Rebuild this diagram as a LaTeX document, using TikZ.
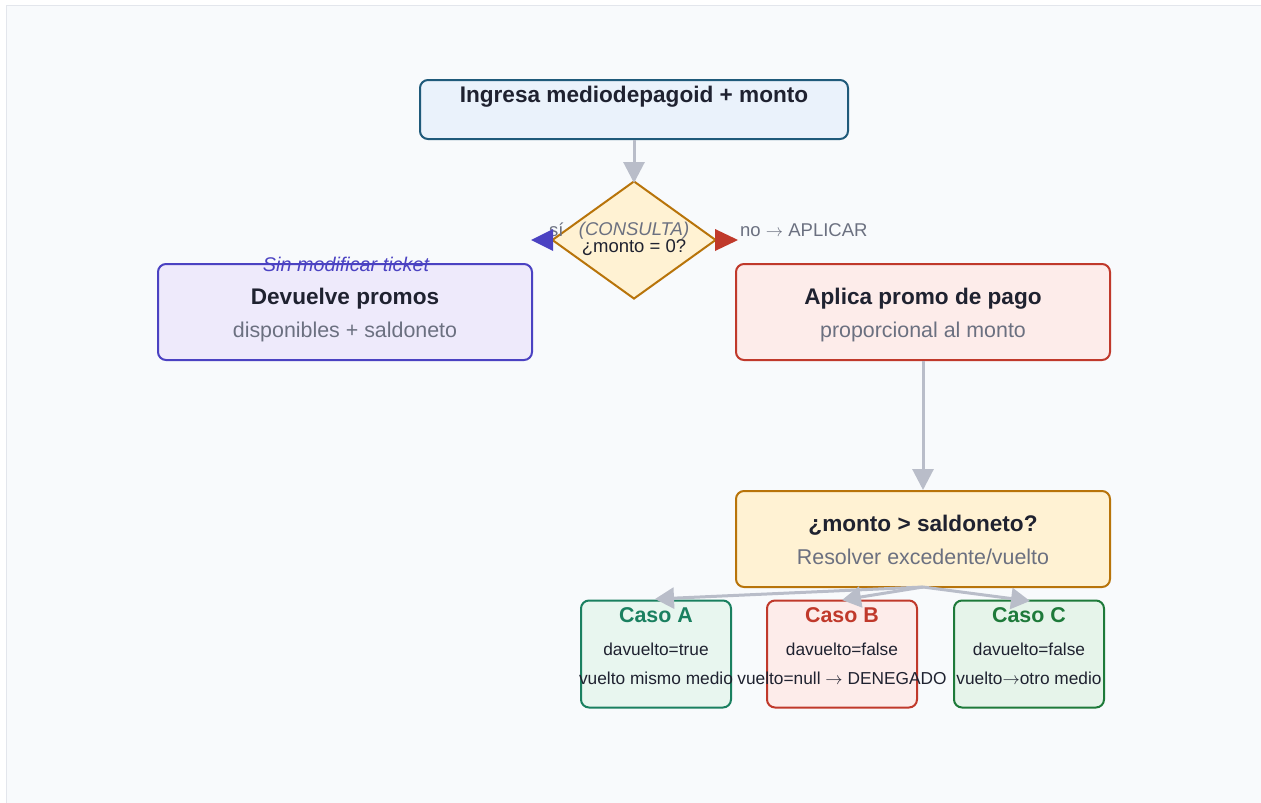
\documentclass[tikz,border=0pt]{standalone}
\usepackage{fontspec}
\setmainfont{Liberation Sans}
\usetikzlibrary{shapes.geometric,arrows.meta}
\definecolor{bgc}{HTML}{F8FAFC}
\definecolor{bgline}{HTML}{E3E6EC}
\definecolor{txt}{HTML}{1F2230}
\definecolor{sub}{HTML}{6B7080}
\definecolor{conn}{HTML}{B9BDC9}
\definecolor{bluefill}{HTML}{EAF2FB}
\definecolor{bluestroke}{HTML}{1F5A7A}
\definecolor{yelfill}{HTML}{FFF2D3}
\definecolor{yelstroke}{HTML}{B8740A}
\definecolor{indfill}{HTML}{EEEAFB}
\definecolor{indstroke}{HTML}{4B42C2}
\definecolor{redfill}{HTML}{FDECEA}
\definecolor{redstroke}{HTML}{C0392B}
\definecolor{tealfill}{HTML}{E8F6EF}
\definecolor{tealstroke}{HTML}{1A8060}
\definecolor{grnfill}{HTML}{E6F4EA}
\definecolor{grnstroke}{HTML}{1E7A3A}
\tikzset{
  box/.style={rounded corners=8pt, line width=2pt, inner sep=0pt},
  conn/.style={draw=conn, line width=3pt, -{Triangle[length=21pt,width=21pt]}, shorten >=0pt},
  smallconn/.style={draw=conn, line width=3pt, -{Triangle[length=19pt,width=21pt]}},
  title/.style={font=\bfseries\fontsize{22.6}{26}\selectfont, text=txt, inner sep=0pt},
  subt/.style={font=\fontsize{21.4}{25}\selectfont, text=sub, inner sep=0pt},
  lbl/.style={font=\fontsize{18.5}{22}\selectfont, text=sub, inner sep=0pt},
  casetitle/.style={font=\bfseries\fontsize{21.4}{25}\selectfont, inner sep=0pt},
  casetxt/.style={font=\fontsize{17.3}{20}\selectfont, text=txt, inner sep=0pt},
}
\begin{document}
\begin{tikzpicture}[x=1pt,y=-1pt]
\useasboundingbox (0,0) rectangle (1261,803);
\draw[fill=bgc, draw=bgline, line width=1.5pt] (6.5,5.5) rectangle (1275,815);

% top box
\node[box, draw=bluestroke, fill=bluefill, minimum width=428pt, minimum height=59pt] (top) at (634,109.5) {};
\node[title] (toptxt) at (634,96.5) {Ingresa mediodepagoid + monto};

% diamond
\node[diamond, draw=yelstroke, fill=yelfill, line width=2pt, minimum width=164pt, minimum height=118pt, inner sep=0pt] (dec) at (634,240) {};
\node[lbl, font=\itshape\fontsize{18.5}{22}\selectfont] (cons) at (634,231) {(CONSULTA)};
\node[lbl, text=txt] (q0) at (634,248) {¿monto = 0?};
\node[lbl, anchor=west] (si) at (549,230) {sí};
\node[lbl, anchor=west] (no) at (740,230) {no $\rightarrow$ APLICAR};
\fill[indstroke] ([xshift=2pt]dec.west) -- ++(0,-11) -- ++(-22,11) -- ++(22,11) -- cycle;
\fill[redstroke] ([xshift=-2pt]dec.east) -- ++(0,-11) -- ++(23,11) -- ++(-23,11) -- cycle;

% left box
\node[box, draw=indstroke, fill=indfill, minimum width=374pt, minimum height=96pt] (left) at (345,312) {};
\node[title] (lt) at (345,299) {Devuelve promos};
\node[subt] (ls) at (345,331.5) {disponibles + saldoneto};
\node[inner sep=0pt, text=indstroke, font=\itshape\fontsize{19.8}{23}\selectfont] (sinmod) at (346,264) {Sin modificar ticket};

% right box
\node[box, draw=redstroke, fill=redfill, minimum width=374pt, minimum height=96pt] (right) at (923,312) {};
\node[title] (rt) at (923,299) {Aplica promo de pago};
\node[subt] (rs) at (923,331.5) {proporcional al monto};

% saldo box
\node[box, draw=yelstroke, fill=yelfill, minimum width=374pt, minimum height=96pt] (saldo) at (923,539) {};
\node[title] (st) at (923,525) {¿monto > saldoneto?};
\node[subt] (ss) at (923,556.5) {Resolver excedente/vuelto};

% cases
\node[box, draw=tealstroke, fill=tealfill, minimum width=150pt, minimum height=107pt] (ca) at (656,654) {};
\node[casetitle, text=tealstroke] (cat) at (656,615) {Caso A};
\node[casetxt] (ca1) at (656,649) {davuelto=true};
\node[casetxt] (ca2) at (656,678) {vuelto mismo medio};

\node[box, draw=redstroke, fill=redfill, minimum width=150pt, minimum height=107pt] (cb) at (842,654) {};
\node[casetitle, text=redstroke] (cbt) at (842,615) {Caso B};
\node[casetxt] (cb1) at (842,649) {davuelto=false};
\node[casetxt] (cb2) at (842,678) {vuelto=null $\rightarrow$ DENEGADO};

\node[box, draw=grnstroke, fill=grnfill, minimum width=150pt, minimum height=107pt] (cc) at (1029,654) {};
\node[casetitle, text=grnstroke] (cct) at (1029,615) {Caso C};
\node[casetxt] (cc1) at (1029,649) {davuelto=false};
\node[casetxt] (cc2) at (1029,678) {vuelto$\rightarrow$otro medio};

% connectors
\draw[conn] (top.south) -- ([yshift=-3pt]dec.north);
\draw[conn] (right.south) -- (saldo.north);
\coordinate (split) at (923,587);
\coordinate (ta) at (655,599);
\coordinate (tb) at (842,600);
\coordinate (tc) at (1030,601);
\draw[smallconn] (split) -- (ta);
\draw[smallconn] (split) -- (tb);
\draw[smallconn] (split) -- (tc);
\end{tikzpicture}
\end{document}
